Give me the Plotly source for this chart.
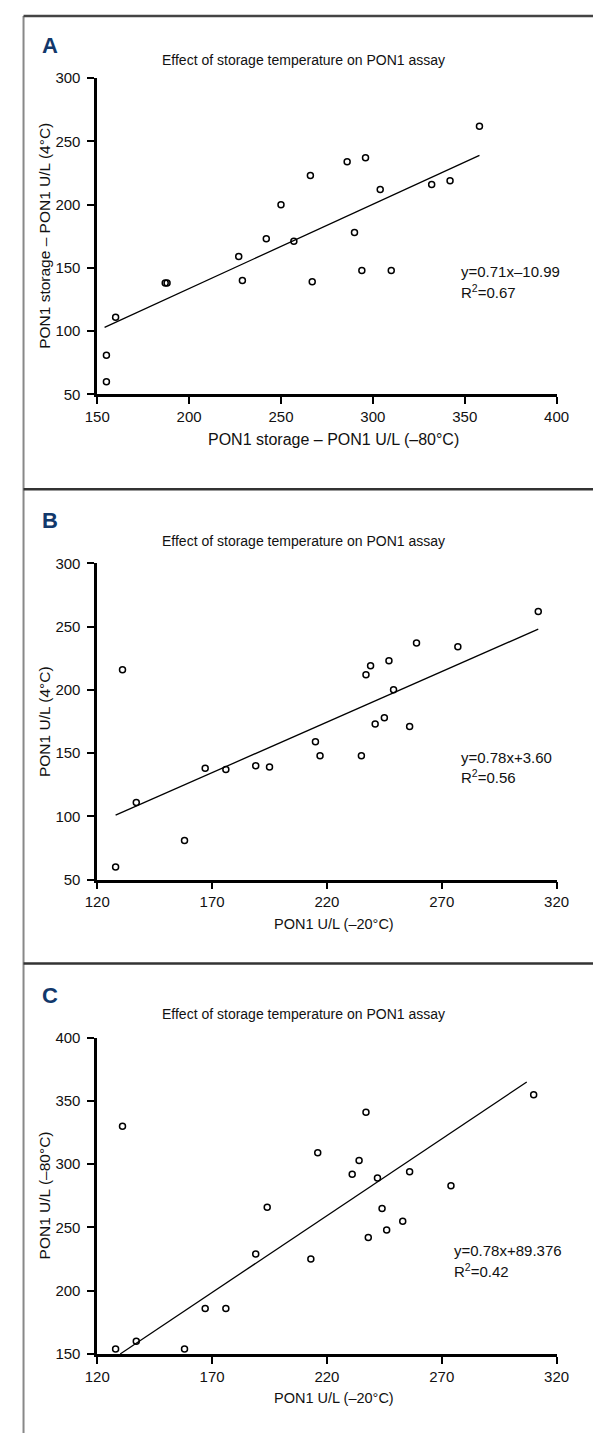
import plotly.graph_objects as go

W, H = 606, 1441
FONT = "Liberation Sans, Arial, sans-serif"
NAVY = "#12386b"
TXT = "#111111"

# ---------------- data ----------------
a_x = [358, 286, 296, 266, 304, 332, 342, 250, 290, 242, 257, 227, 229, 267, 294, 310, 187, 188, 160, 155, 155]
a_y = [262, 234, 237, 223, 212, 216, 219, 200, 178, 173, 171, 159, 140, 139, 148, 148, 138, 138, 111, 81, 60]
a_fit_x = [154, 358]
a_fit_y = [103, 239]

b_x = [312, 131, 259, 277, 247, 239, 237, 249, 241, 245, 256, 215, 217, 235, 167, 176, 189, 195, 137, 158, 128]
b_y = [262, 216, 237, 234, 223, 219, 212, 200, 173, 178, 171, 159, 148, 148, 138, 137, 140, 139, 111, 81, 60]
b_fit_x = [128, 312]
b_fit_y = [101, 248]

c_x = [131, 310, 237, 216, 234, 231, 242, 256, 274, 194, 244, 253, 246, 238, 189, 213, 167, 176, 137, 128, 158]
c_y = [330, 355, 341, 309, 303, 292, 289, 294, 283, 266, 265, 255, 248, 242, 229, 225, 186, 186, 160, 154, 154]
c_fit_x = [130, 307]
c_fit_y = [150, 365]

letters = ["A", "B", "C"]
titles = ["Effect of storage temperature on PON1 assay"] * 3
x_titles = ["PON1 storage – PON1 U/L (–80°C)", "PON1 U/L (–20°C)", "PON1 U/L (–20°C)"]
y_titles = ["PON1 storage – PON1 U/L (4°C)", "PON1 U/L (4°C)", "PON1 U/L (–80°C)"]
x_ranges = [[150, 400], [120, 320], [120, 320]]
y_ranges = [[50, 300], [50, 300], [150, 400]]
x_dticks = [50, 50, 50]
y_dticks = [50, 50, 50]
eq_lines = ["y=0.71x–10.99", "y=0.78x+3.60", "y=0.78x+89.376"]
r2_lines = ["R<sup>2</sup>=0.67", "R<sup>2</sup>=0.56", "R<sup>2</sup>=0.42"]

# ---------------- layout (pixels) ----------------
X0, X1 = 88, 568
tops = [70, 561, 1041]
bottoms = [390, 881, 1361]
seps = [486, 966]
letter_y = [37, 518, 998]
title_x = 303
title_y = [52, 538, 1017]
xtitle_x = 335
xtitle_y = [436, 926, 1406]
xtitle_size = [16, 14.5, 14.5]
eq_pos = [(466, 266, 286), (466, 757, 777), (459, 1256, 1277)]

def px(x):
    return x / W

def py(y):
    return 1 - y / H

fig = go.Figure()
series = [(a_x, a_y, a_fit_x, a_fit_y), (b_x, b_y, b_fit_x, b_fit_y), (c_x, c_y, c_fit_x, c_fit_y)]
annotations = []
for i, (sx, sy, fx, fy) in enumerate(series):
    n = "" if i == 0 else str(i + 1)
    fig.add_trace(go.Scatter(x=fx, y=fy, mode="lines", line=dict(color="black", width=1.3),
                             xaxis="x" + n, yaxis="y" + n, showlegend=False, hoverinfo="skip"))
    fig.add_trace(go.Scatter(x=sx, y=sy, mode="markers",
                             marker=dict(symbol="circle-open", size=6, color="black", line=dict(width=1.5)),
                             xaxis="x" + n, yaxis="y" + n, showlegend=False))
    axis_common = dict(showgrid=False, zeroline=False, showline=True, linecolor="black", linewidth=2.5,
                       ticks="outside", ticklen=7, tickwidth=2, tickcolor="black",
                       tickfont=dict(family=FONT, size=15, color=TXT), fixedrange=True)
    fig.layout["xaxis" + n] = dict(axis_common, domain=[px(X0), px(X1)], range=x_ranges[i],
                                   dtick=x_dticks[i], tick0=x_ranges[i][0], anchor="y" + n,
                                   ticklabelstandoff=0)
    fig.layout["yaxis" + n] = dict(axis_common, domain=[py(bottoms[i]), py(tops[i])], range=y_ranges[i],
                                   dtick=y_dticks[i], tick0=y_ranges[i][0], anchor="x" + n,
                                   ticklabelstandoff=4)
    annotations.append(dict(text=letters[i], x=px(28), y=py(letter_y[i]), xref="paper", yref="paper",
                            xanchor="left", yanchor="middle", showarrow=False,
                            font=dict(family=FONT, size=22, color=NAVY, weight="bold")))
    annotations.append(dict(text=titles[i], x=px(title_x), y=py(title_y[i]), xref="paper", yref="paper",
                            xanchor="center", yanchor="middle", showarrow=False,
                            font=dict(family=FONT, size=14, color=TXT)))
    annotations.append(dict(text=x_titles[i], x=px(xtitle_x), y=py(xtitle_y[i]), xref="paper", yref="paper",
                            xanchor="center", yanchor="middle", showarrow=False,
                            font=dict(family=FONT, size=xtitle_size[i], color=TXT)))
    annotations.append(dict(text=y_titles[i], x=px(33), y=py((tops[i] + bottoms[i]) / 2), xref="paper", yref="paper",
                            xanchor="center", yanchor="middle", textangle=-90, showarrow=False,
                            font=dict(family=FONT, size=15.5, color=TXT)))
    ex, ey1, ey2 = eq_pos[i]
    annotations.append(dict(text=eq_lines[i], x=px(ex), y=py(ey1), xref="paper", yref="paper",
                            xanchor="left", yanchor="middle", showarrow=False,
                            font=dict(family=FONT, size=15, color=TXT)))
    annotations.append(dict(text=r2_lines[i], x=px(ex), y=py(ey2), xref="paper", yref="paper",
                            xanchor="left", yanchor="middle", showarrow=False,
                            font=dict(family=FONT, size=15, color=TXT)))

shapes = [
    dict(type="line", xref="paper", yref="paper", x0=px(11), x1=px(11), y0=py(7), y1=0,
         line=dict(color="#888", width=2)),
    dict(type="line", xref="paper", yref="paper", x0=px(11), x1=1, y0=py(7), y1=py(7),
         line=dict(color="#444", width=2.5)),
]
for s in seps:
    shapes.append(dict(type="line", xref="paper", yref="paper", x0=px(11), x1=1, y0=py(s), y1=py(s),
                       line=dict(color="#333", width=2.5)))

fig.update_layout(width=W, height=H, margin=dict(l=0, r=0, t=0, b=0),
                  paper_bgcolor="white", plot_bgcolor="white",
                  annotations=annotations, shapes=shapes, showlegend=False)

fig.write_html("out.html")
